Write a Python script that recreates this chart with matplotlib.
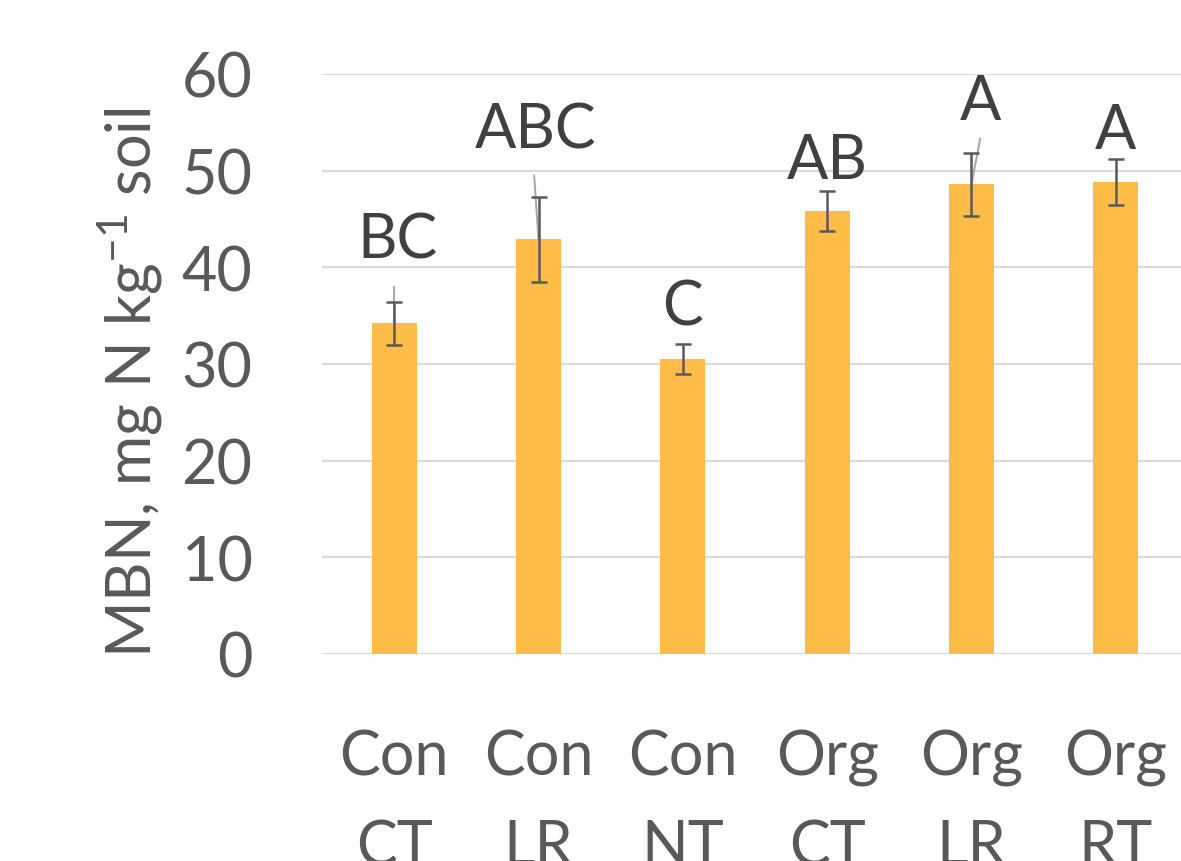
import numpy as np
import matplotlib.pyplot as plt

# MBN by management system and tillage
categories = ['Con\nCT', 'Con\nLR', 'Con\nNT', 'Org\nCT', 'Org\nLR', 'Org\nRT']
mbn = [34.2, 42.9, 30.5, 45.8, 48.6, 48.8]
err = [2.2, 4.4, 1.55, 2.05, 3.25, 2.4]
letters = ['BC', 'ABC', 'C', 'AB', 'A', 'A']
letter_y = [42.8, 54.2, 35.9, 51.1, 57.2, 54.2]
letter_dx = [0.02, -0.02, 0.0, 0.0, 0.06, 0.0]

text_color = '#595959'
plt.rcParams['font.family'] = ['Lato', 'DejaVu Sans']
plt.rcParams['axes.unicode_minus'] = False

fig = plt.figure(figsize=(11.81, 8.62), dpi=100)
ax = fig.add_axes([322 / 1181, 1 - 655 / 862, 866 / 1181, 580 / 862])

x = np.arange(len(categories))
ax.bar(x, mbn, width=0.31, color='#FFBC47', zorder=2)
ax.errorbar(x, mbn, yerr=err, fmt='none', ecolor=text_color, elinewidth=1.8,
            capsize=6, capthick=1.8, zorder=4)

# leader lines from the data labels
leaders = [(0, 0.0, 38.0), (1, -0.03, 49.5), (4, 0.06, 53.3)]
for i, dx, y_top in leaders:
    ax.plot([x[i] + dx, x[i]], [y_top, mbn[i]], color='#A6A6A6', lw=1.4, zorder=3)

for xi, lab, ly, dx in zip(x, letters, letter_y, letter_dx):
    ax.text(xi + dx, ly, lab, ha='center', va='center', fontsize=44, color='#404040')

ax.set_xlim(-0.5, 5.5)
ax.set_ylim(0, 60)
ax.set_yticks(np.arange(0, 61, 10))
ax.yaxis.grid(True, color='#D9D9D9', lw=1.5, zorder=0)
ax.set_axisbelow(True)
for s in ax.spines.values():
    s.set_visible(False)
ax.tick_params(length=0, labelsize=44, labelcolor=text_color)
ax.tick_params(axis='y', pad=50)
ax.set_xticks(x)
ax.set_xticklabels(categories, linespacing=1.7, va='top')
ax.tick_params(axis='x', pad=54)
ax.set_ylabel('MBN, mg N kg$^{\\mathregular{-1}}$ soil', fontsize=44, color=text_color,
              va='center')
ax.yaxis.set_label_coords(-0.222, 0.47)

fig.savefig('out.png', dpi=100)
